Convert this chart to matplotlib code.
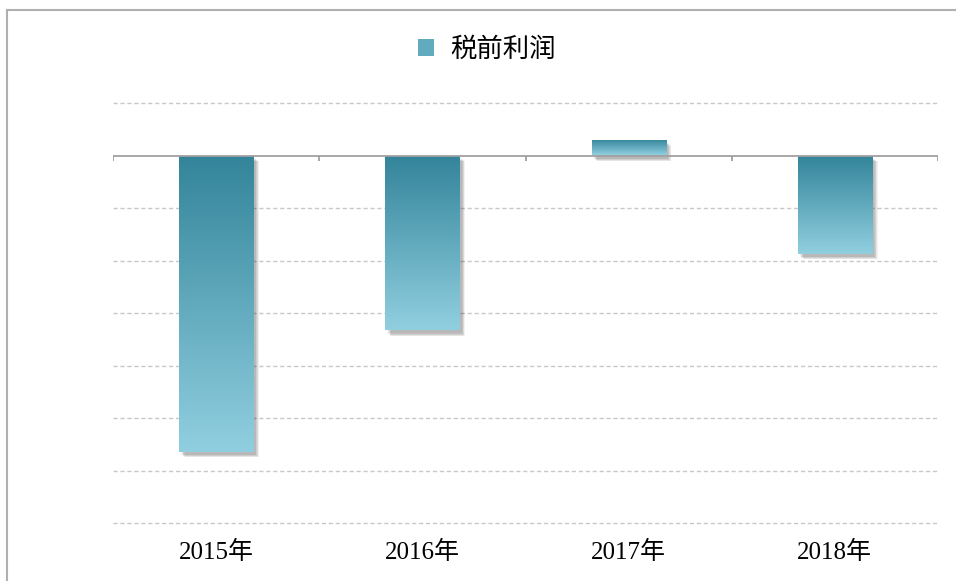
import matplotlib.pyplot as plt
import numpy as np
from matplotlib.patches import Rectangle, Patch
from matplotlib.lines import Line2D

years = ['2015年', '2016年', '2017年', '2018年']
profit = [-5.64, -3.33, 0.30, -1.87]
series_name = '税前利润'

plt.rcParams['font.family'] = ['Liberation Serif', 'Noto Sans CJK SC', 'DejaVu Sans']

fig = plt.figure(figsize=(9.56, 5.81), dpi=100)
ax = fig.add_axes([113/956, 58/581, 825/956, 420/581])

dark = np.array([0x33, 0x84, 0x9a]) / 255
light = np.array([0x90, 0xcf, 0xe0]) / 255
grad = np.linspace(0, 1, 256)[:, None, None] * (light - dark) + dark

bw = 0.36
x = np.arange(len(years))
for xi, v in zip(x, profit):
    lo, hi = min(0, v), max(0, v)
    # soft shadow, offset right/down
    for k in range(6):
        sh = Rectangle((xi - bw/2 + 0.012 + k*0.003, lo - 0.06 - k*0.01), bw, hi - lo,
                       facecolor='black', alpha=0.05, edgecolor='none', zorder=2)
        ax.add_patch(sh)
    im = ax.imshow(grad, extent=(xi - bw/2, xi + bw/2, lo, hi), origin='upper',
                   aspect='auto', zorder=3)
    r = Rectangle((xi - bw/2, lo), bw, hi - lo, facecolor='none', edgecolor='none')
    ax.add_patch(r)
    im.set_clip_path(r)

ax.set_xlim(-0.5, len(years) - 0.5)
ax.set_ylim(-7, 1)

for g in range(-7, 2):
    if g != 0:
        ax.axhline(g, color='#c8c8c8', lw=1, ls=(0, (3, 2)), zorder=1, clip_on=False)
ax.axhline(0, color='#a0a0a0', lw=1.3, zorder=4)
ax.vlines(np.arange(len(years) + 1) - 0.5, -0.1, 0, color='#a0a0a0', lw=1.3, zorder=4)

ax.set_xticks(x, years, fontsize=18)
ax.tick_params(axis='x', length=0, pad=13)
ax.set_yticks([])
for s in ax.spines.values():
    s.set_visible(False)

handle = Patch(facecolor=(dark + light) / 2, edgecolor='none')
fig.legend([handle], [series_name], loc='center', bbox_to_anchor=(487/956, 1 - 49/581),
           frameon=False, handlelength=0.6, handleheight=0.6,
           handletextpad=0.6, prop={'family': ['Noto Sans CJK SC'], 'size': 19})

# outer border
fig.add_artist(Line2D([7/956, 7/956], [0, 1 - 10/581], color='#b0b0b0', lw=1.5))
fig.add_artist(Line2D([7/956, 1], [1 - 10/581, 1 - 10/581], color='#b0b0b0', lw=1.5))

fig.savefig('out.png', dpi=100)
